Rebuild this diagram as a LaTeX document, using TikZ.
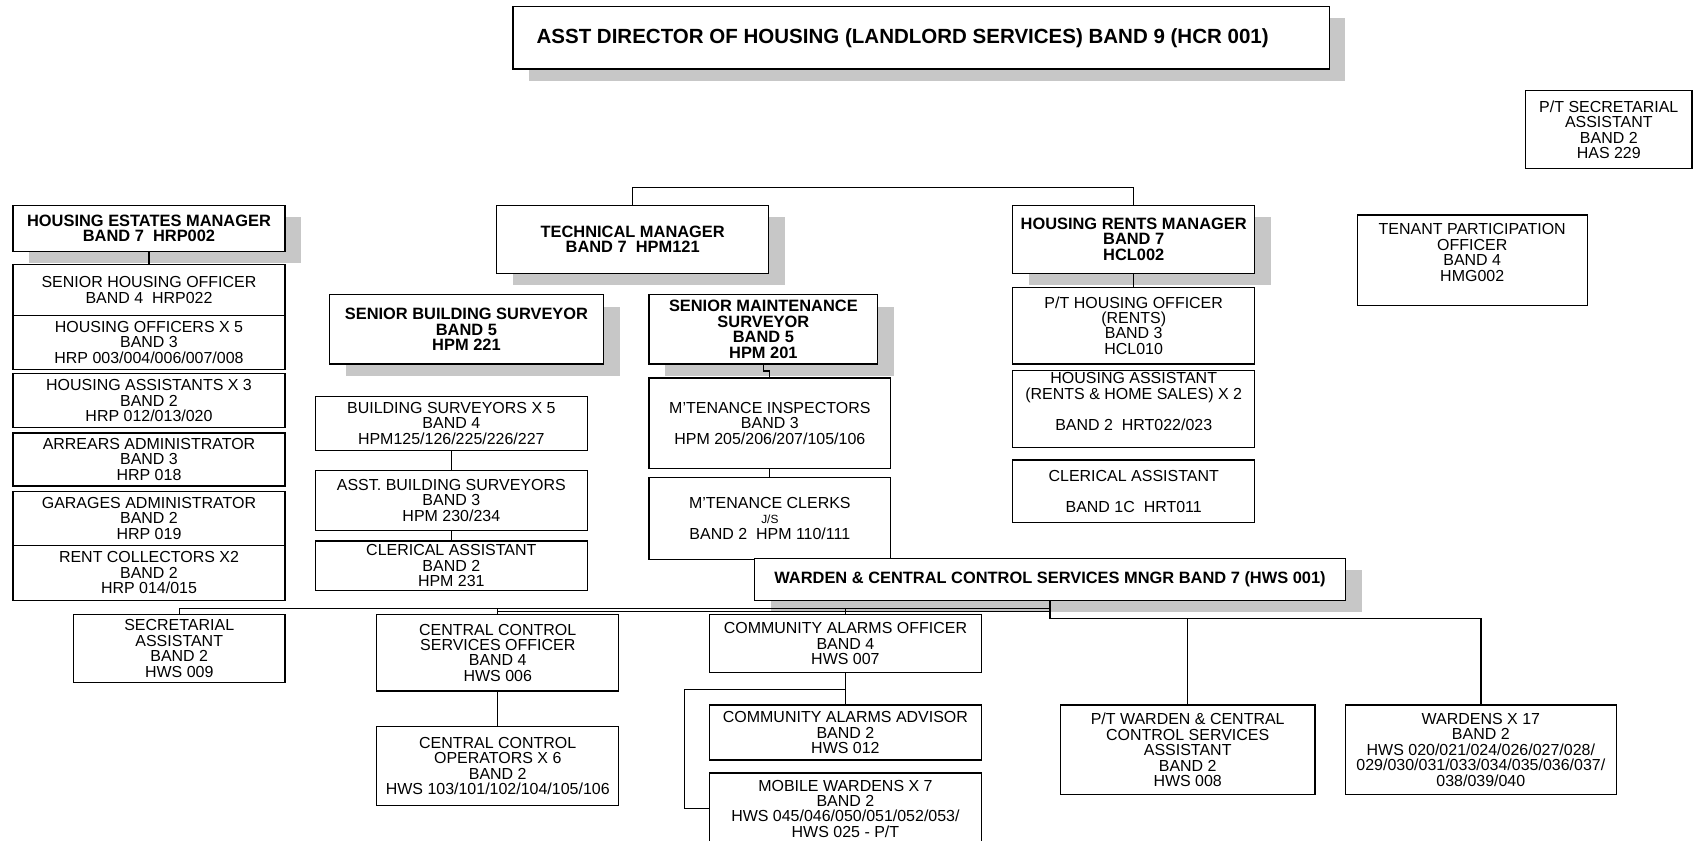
\documentclass[tikz,border=0pt]{standalone}
\usepackage{fontspec}
\setmainfont{Liberation Sans}
\usetikzlibrary{shadows}

\begin{document}
\begin{tikzpicture}[x=0.5pt, y=-0.5pt,
  post/.style={draw, line width=0.6pt, fill=white, align=center, inner sep=1pt,
    font=\fontsize{7.4}{7.15}\selectfont},
  head/.style={post, font=\bfseries\fontsize{7.6}{7.15}\selectfont,
    drop shadow={shadow xshift=7.5pt, shadow yshift=-5.5pt, opacity=1, fill=black!22}},
  link/.style={line width=0.6pt}]

\useasboundingbox (0,0) rectangle (1568,778);

% top of the tree
\node[head, font=\bfseries\fontsize{9.5}{9}\selectfont, minimum width=378pt, minimum height=29pt] (adh) at (853,35)
  {\hspace{-17pt}ASST DIRECTOR OF HOUSING (LANDLORD SERVICES) BAND 9 (HCR 001)};
\node[post, minimum width=77pt, minimum height=36pt] (ptsec) at (1490,120)
  {P/T SECRETARIAL\\ASSISTANT\\BAND 2\\HAS 229};

% estates
\node[head, minimum width=126pt, minimum height=21.5pt] (hem) at (138,211.5)
  {HOUSING ESTATES MANAGER\\BAND 7\ \ HRP002};
\node[post, minimum width=126pt, minimum height=23.5pt] (sho) at (138,268.5)
  {SENIOR HOUSING OFFICER\\BAND 4\ \ HRP022};
\node[post, minimum width=126pt, minimum height=25pt] (hofx) at (138,317)
  {HOUSING OFFICERS X 5\\BAND 3\\HRP 003/004/006/007/008};
\node[post, minimum width=126pt, minimum height=25pt] (hasx) at (138,371)
  {HOUSING ASSISTANTS X 3\\BAND 2\\HRP 012/013/020};
\node[post, minimum width=126pt, minimum height=24.5pt] (arr) at (138,425.5)
  {ARREARS ADMINISTRATOR\\BAND 3\\HRP 018};
\node[post, minimum width=126pt, minimum height=25pt] (gar) at (138,480)
  {GARAGES ADMINISTRATOR\\BAND 2\\HRP 019};
\node[post, minimum width=126pt, minimum height=25.5pt] (rcol) at (138,530.5)
  {RENT COLLECTORS X2\\BAND 2\\HRP 014/015};

% technical
\node[head, minimum width=126pt, minimum height=31.5pt] (tm) at (586,221.5)
  {TECHNICAL MANAGER\\BAND 7\ \ HPM121};
\node[head, minimum width=127pt, minimum height=32pt] (sbs) at (432,305)
  {SENIOR BUILDING SURVEYOR\\BAND 5\\HPM 221};
\node[head, minimum width=106pt, minimum height=32pt] (sms) at (707,305)
  {SENIOR MAINTENANCE\\SURVEYOR\\BAND 5\\HPM 201};
\node[post, minimum width=126pt, minimum height=25pt] (bsx) at (418,392)
  {BUILDING SURVEYORS X 5\\BAND 4\\HPM125/126/225/226/227};
\node[post, minimum width=126pt, minimum height=27.5pt] (abs) at (418,463.5)
  {ASST. BUILDING SURVEYORS\\BAND 3\\HPM 230/234};
\node[post, minimum width=126pt, minimum height=23pt] (clb) at (418,524)
  {CLERICAL ASSISTANT\\BAND 2\\HPM 231};
\node[post, minimum width=112pt, minimum height=42pt] (mti) at (713,392)
  {M'TENANCE INSPECTORS\\BAND 3\\HPM 205/206/207/105/106};
\node[post, minimum width=112pt, minimum height=38pt] (mtc) at (713,480)
  {M'TENANCE CLERKS\\{\fontsize{5.5}{7.15}\selectfont J/S}\\BAND 2\ \ HPM 110/111};

% rents
\node[head, minimum width=112pt, minimum height=31.5pt] (hrm) at (1050,221.5)
  {HOUSING RENTS MANAGER\\BAND 7\\HCL002};
\node[post, minimum width=112pt, minimum height=35.5pt] (ptho) at (1050,301.5)
  {P/T HOUSING OFFICER\\(RENTS)\\BAND 3\\HCL010};
\node[post, minimum width=112pt, minimum height=35pt] (hars) at (1050,379)
  {HOUSING ASSISTANT\\(RENTS \& HOME SALES) X 2\\\mbox{}\\BAND 2\ \ HRT022/023\\\mbox{}};
\node[post, minimum width=112pt, minimum height=29pt] (clr) at (1050,455)
  {CLERICAL ASSISTANT\\\mbox{}\\BAND 1C\ \ HRT011};
\node[post, minimum width=106.5pt, minimum height=42pt] (tpo) at (1363.5,241)
  {TENANT PARTICIPATION\\OFFICER\\BAND 4\\HMG002\\\mbox{}};

% wardens
\node[head, minimum width=273.5pt, minimum height=19.5pt] (wccm) at (972.5,536.5)
  {WARDEN \& CENTRAL CONTROL SERVICES MNGR BAND 7 (HWS 001)};
\node[post, minimum width=98pt, minimum height=31.5pt] (sec) at (166,600.5)
  {SECRETARIAL\\ASSISTANT\\BAND 2\\HWS 009};
\node[post, minimum width=112pt, minimum height=35.5pt] (ccso) at (461,604.5)
  {CENTRAL CONTROL\\SERVICES OFFICER\\BAND 4\\HWS 006};
\node[post, minimum width=112pt, minimum height=36.5pt] (cco) at (461,709.5)
  {CENTRAL CONTROL\\OPERATORS X 6\\BAND 2\\HWS 103/101/102/104/105/106};
\node[post, minimum width=126pt, minimum height=27pt] (cao) at (783,596)
  {COMMUNITY ALARMS OFFICER\\BAND 4\\HWS 007};
\node[post, minimum width=126pt, minimum height=25.5pt] (caa) at (783,678.5)
  {COMMUNITY ALARMS ADVISOR\\BAND 2\\HWS 012};
\node[post, minimum width=126pt, minimum height=33pt] (mwx) at (783,749)
  {MOBILE WARDENS X 7\\BAND 2\\HWS 045/046/050/051/052/053/\\HWS 025 - P/T};
\node[post, minimum width=118pt, minimum height=41.5pt] (ptw) at (1100,694.5)
  {P/T WARDEN \& CENTRAL\\CONTROL SERVICES\\ASSISTANT\\BAND 2\\HWS 008};
\node[post, minimum width=125.5pt, minimum height=41.5pt] (wx) at (1371.5,694.5)
  {WARDENS X 17\\BAND 2\\HWS 020/021/024/026/027/028/\\029/030/031/033/034/035/036/037/\\038/039/040};

% connectors
\draw[link] (hem) -- (sho);
\draw[link] (tm.north) -- ++(0,-16) -| (hrm.north);
\draw[link] (hrm) -- (ptho);
\draw[link] (sms.south) -- ++(0,6) -| (mti.north);
\draw[link] (mti) -- (mtc);
\draw[link] (bsx) -- (abs);
\draw[link] (abs) -- (clb);
\draw[link] (wccm.south) -- ++(0,16) coordinate (busr) -| (wx.north);
\draw[link] (busr) -| (ptw.north);
\draw[link] (wccm.south) ++(0,7) coordinate (busl) -| (sec.north);
\draw[link] (busl) ++(0,3) -- ++(-512,0);
\draw[link] (busl) -| (ccso.north);
\draw[link] (busl) -| (cao.north);
\draw[link] (ccso) -- (cco);
\draw[link] (cao) -- (caa);
\draw[link] (cao.south) ++(0,15) coordinate (cab) -- ++(-149,0) |- (mwx.west);

\end{tikzpicture}
\end{document}
